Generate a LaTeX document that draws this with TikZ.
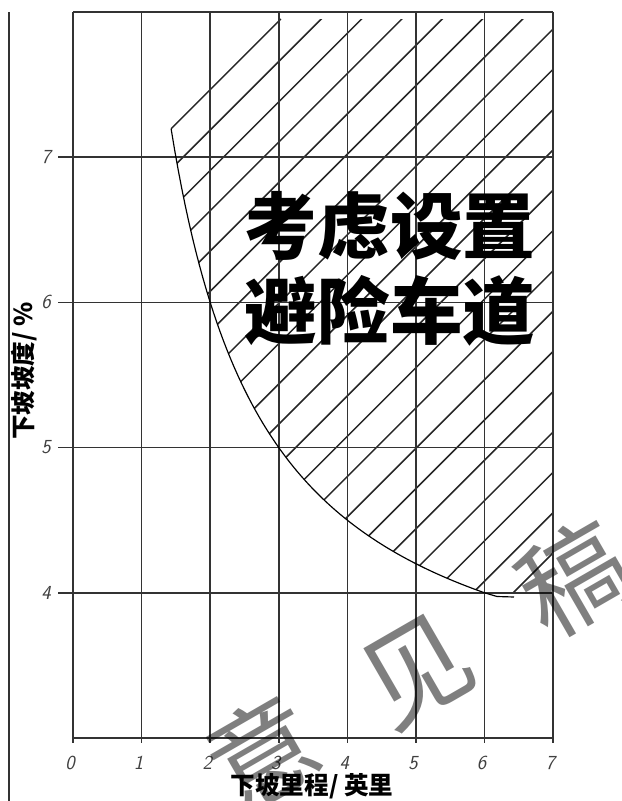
\documentclass[tikz,border=0pt]{standalone}
\usepackage{fontspec}
\newfontfamily\cjk{Noto Sans CJK SC}
\begin{document}
\begin{tikzpicture}[x=0.03cm,y=-0.03cm,
  gridline/.style={line width=1.4pt,black!80},
  hatchline/.style={line width=1.3pt,black!85},
  curveline/.style={line width=1pt,black},
  ticklabel/.style={font=\sffamily\itshape\fontsize{17}{17}\selectfont,text=black!75,inner sep=0pt},
  axislabel/.style={font=\cjk\bfseries\fontsize{21}{21}\selectfont,inner sep=0pt},
  bigtext/.style={font=\cjk\bfseries\fontsize{62}{62}\selectfont,inner sep=0pt},
  watermark/.style={font=\cjk\fontsize{92}{92}\selectfont,text=black,text opacity=0.5,rotate=30,inner sep=0pt}]
\useasboundingbox (0,0) rectangle (622,801);
% left border line
\draw[gridline] (9,12) -- (9,801);
% hatched region
\begin{scope}
\clip (171.1,128.8) -- (280.9,19) -- (553,19) -- (553,592.8) -- (484.6,592.8)
  -- plot[domain=6:1.43,samples=90] ({73+68.6*\x},{738-871.2/\x}) -- cycle;
\foreach \k in {1,...,20}{
  \pgfmathsetmacro\c{300+40.3*\k}
  \draw[hatchline] (\c-650,650) -- (\c,0);
}
\end{scope}
\coordinate (hs) at (171.1,128.8);
\coordinate (he) at (280.9,19);
\draw[hatchline] (hs) -- (he);
% grid
\foreach \i in {0,...,7}{
  \draw[gridline] ({73+68.6*\i},12) -- ({73+68.6*\i},743);
}
\draw[gridline] (73,12) -- (553,12);
\draw[gridline] (73,738) -- (553,738);
\foreach \j in {4,...,7}{
  \draw[gridline] (58,{738-145.2*(\j-3)}) -- (553,{738-145.2*(\j-3)});
}
% curve
\draw[curveline] plot[domain=1.43:6,samples=90] ({73+68.6*\x},{738-871.2/\x});
\draw[curveline] (484.6,592.8) -- (497,596.5) -- (514,597);
% tick labels
\foreach \i in {0,...,7}{
  \node[ticklabel] (xl\i) at ({70+68.6*\i},763) {\i};
}
\foreach \j in {4,...,7}{
  \node[ticklabel] (yl\j) at (46,{738-145.2*(\j-3)}) {\j};
}
% axis labels
\node[axislabel] (xlab) at (312,786) {下坡里程/ 英里};
\node[axislabel,rotate=90] (ylab) at (24,371) {下坡坡度/ \%};
% big text
\node[bigtext] (t1) at (390,226) {考虑设置};
\node[bigtext] (t2) at (390,311) {避险车道};
% watermark
\node[watermark] (w1) at (262,752) {意};
\node[watermark] (w2) at (417,672) {见};
\node[watermark] (w3) at (574,578) {稿};
\end{tikzpicture}
\end{document}
